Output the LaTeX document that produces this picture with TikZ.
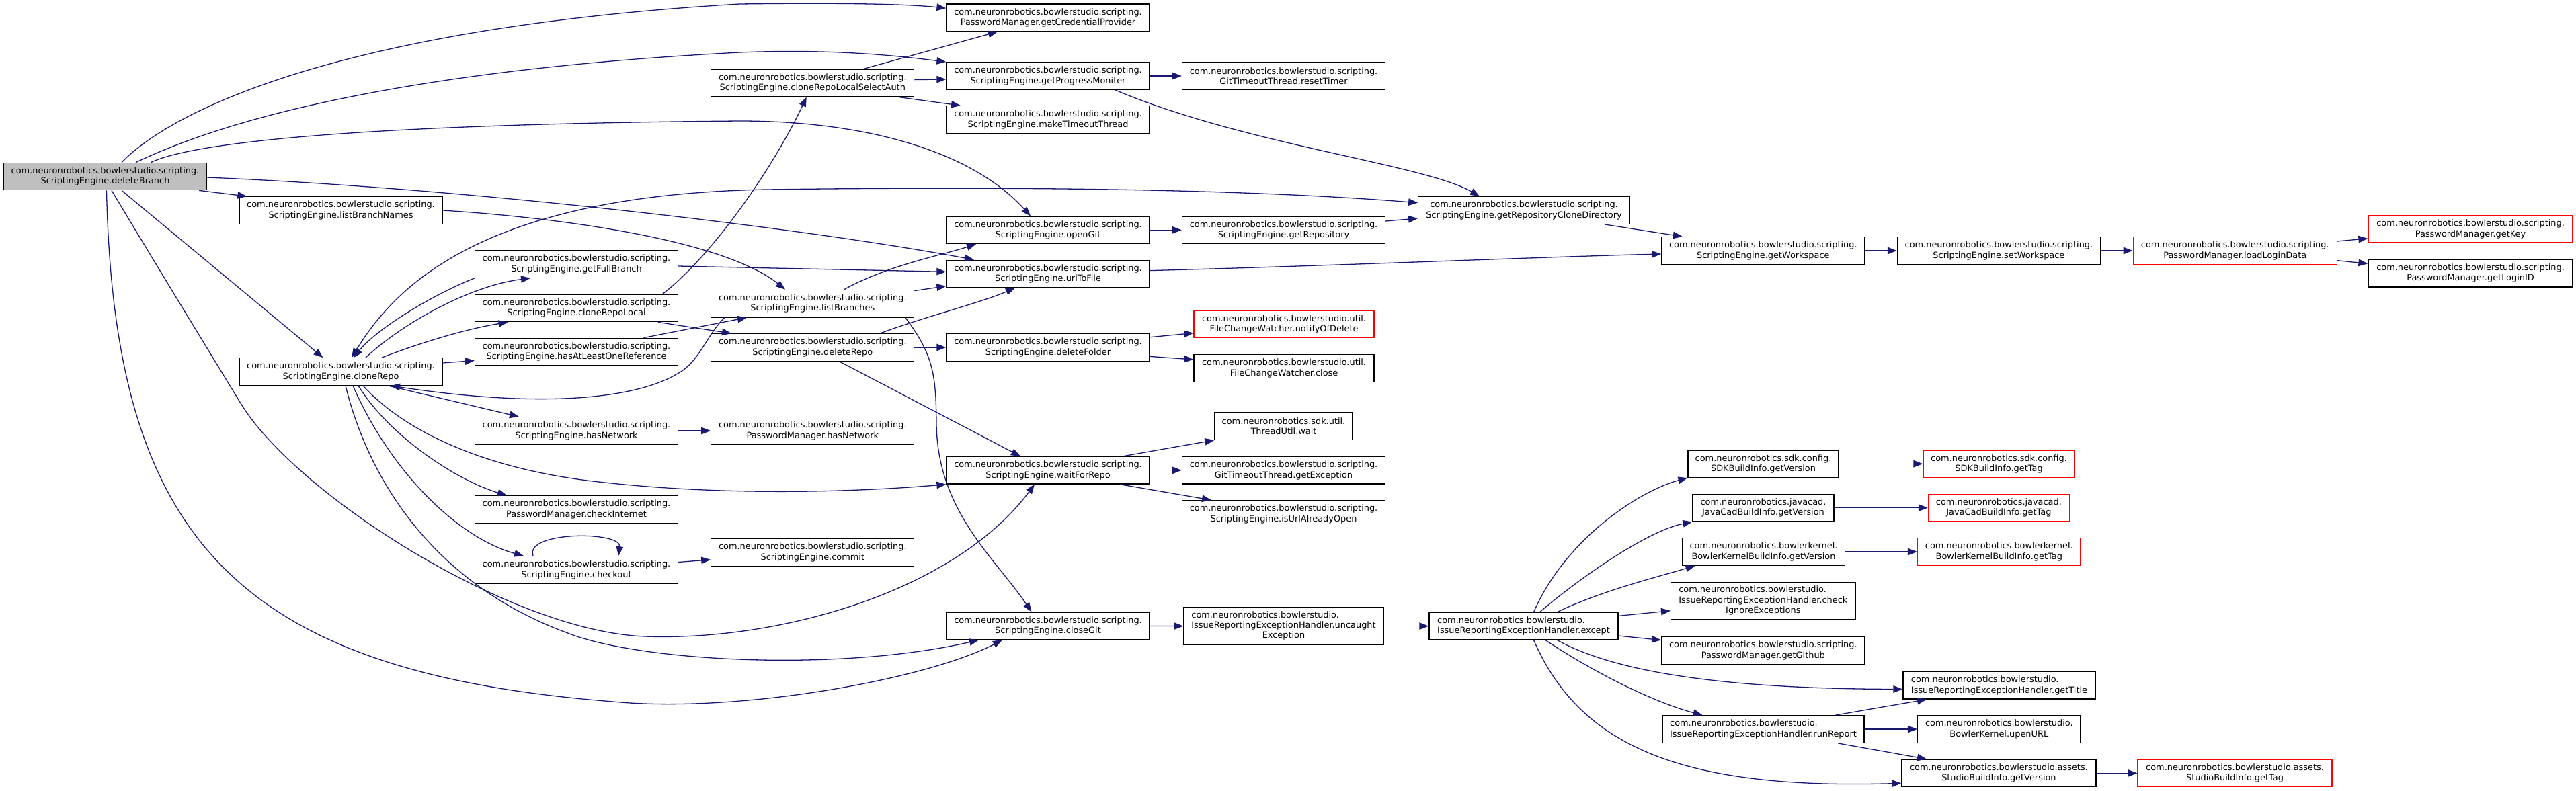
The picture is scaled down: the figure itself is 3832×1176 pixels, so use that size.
\documentclass[tikz,border=0pt]{standalone}
\usepackage{fontspec}
\setmainfont{DejaVu Sans}
\usetikzlibrary{arrows.meta}
\definecolor{edgec}{HTML}{191970}
\definecolor{rootfill}{HTML}{BFBFBF}
\newcommand{\nodefnt}{\fontsize{12.9}{15.3}\selectfont}
\tikzset{
  bx/.style={draw=black, line width=1.3pt, fill=white, inner sep=0pt, minimum height=40.5pt, font=\nodefnt},
  nb/.style={bx, align=center},
  nl/.style={bx, align=left},
  rb/.style={nb, draw=red},
  e/.style={draw=edgec, line width=1.3pt, -{Triangle[length=14pt,width=10.5pt]}},
  ee/.style={draw=edgec, line width=1.3pt, {Triangle[length=14pt,width=10.5pt]}-{Triangle[length=14pt,width=10.5pt]}},
}
\begin{document}
\begin{tikzpicture}[x=1pt, y=-1pt]
\useasboundingbox (0,0) rectangle (3832,1176);
% column 1-2
\node[nb, fill=rootfill, minimum width=302pt] (DB) at (156.5,262.5) {com.neuronrobotics.bowlerstudio.scripting.\\ScriptingEngine.deleteBranch};
\node[nb, minimum width=302pt] (LBN) at (507,313) {com.neuronrobotics.bowlerstudio.scripting.\\ScriptingEngine.listBranchNames};
\node[nb, minimum width=302pt] (CR) at (507,553) {com.neuronrobotics.bowlerstudio.scripting.\\ScriptingEngine.cloneRepo};
% column 3
\node[nb, minimum width=302pt] (GFB) at (857.5,393) {com.neuronrobotics.bowlerstudio.scripting.\\ScriptingEngine.getFullBranch};
\node[nb, minimum width=302pt] (CRL) at (857.5,458.5) {com.neuronrobotics.bowlerstudio.scripting.\\ScriptingEngine.cloneRepoLocal};
\node[nb, minimum width=302pt] (HALOR) at (857.5,523.5) {com.neuronrobotics.bowlerstudio.scripting.\\ScriptingEngine.hasAtLeastOneReference};
\node[nb, minimum width=302pt] (HN) at (857.5,641) {com.neuronrobotics.bowlerstudio.scripting.\\ScriptingEngine.hasNetwork};
\node[nb, minimum width=302pt] (CI) at (857.5,758) {com.neuronrobotics.bowlerstudio.scripting.\\PasswordManager.checkInternet};
\node[nb, minimum width=302pt] (CO) at (857.5,848) {com.neuronrobotics.bowlerstudio.scripting.\\ScriptingEngine.checkout};
% column 4
\node[nb, minimum width=302pt] (CRLSA) at (1208.8,123.6) {com.neuronrobotics.bowlerstudio.scripting.\\ScriptingEngine.cloneRepoLocalSelectAuth};
\node[nb, minimum width=302pt] (LB) at (1208.8,451.6) {com.neuronrobotics.bowlerstudio.scripting.\\ScriptingEngine.listBranches};
\node[nb, minimum width=302pt] (DR) at (1208.8,517) {com.neuronrobotics.bowlerstudio.scripting.\\ScriptingEngine.deleteRepo};
\node[nb, minimum width=302pt] (PMHN) at (1208.8,641) {com.neuronrobotics.bowlerstudio.scripting.\\PasswordManager.hasNetwork};
\node[nb, minimum width=302pt] (COM) at (1208.8,822) {com.neuronrobotics.bowlerstudio.scripting.\\ScriptingEngine.commit};
% column 5
\node[nb, minimum width=302pt] (GCP) at (1559,26.2) {com.neuronrobotics.bowlerstudio.scripting.\\PasswordManager.getCredentialProvider};
\node[nb, minimum width=302pt] (GPM) at (1559,113) {com.neuronrobotics.bowlerstudio.scripting.\\ScriptingEngine.getProgressMoniter};
\node[nb, minimum width=302pt] (MTT) at (1559,178) {com.neuronrobotics.bowlerstudio.scripting.\\ScriptingEngine.makeTimeoutThread};
\node[nb, minimum width=302pt] (OG) at (1559,342.3) {com.neuronrobotics.bowlerstudio.scripting.\\ScriptingEngine.openGit};
\node[nb, minimum width=302pt] (UTF) at (1559,407.4) {com.neuronrobotics.bowlerstudio.scripting.\\ScriptingEngine.uriToFile};
\node[nb, minimum width=302pt] (DF) at (1559,517) {com.neuronrobotics.bowlerstudio.scripting.\\ScriptingEngine.deleteFolder};
\node[nb, minimum width=302pt] (WFR) at (1559,699.8) {com.neuronrobotics.bowlerstudio.scripting.\\ScriptingEngine.waitForRepo};
\node[nb, minimum width=302pt] (CG) at (1559,931.4) {com.neuronrobotics.bowlerstudio.scripting.\\ScriptingEngine.closeGit};
% column 6
\node[nb, minimum width=302pt] (RT) at (1909.5,113) {com.neuronrobotics.bowlerstudio.scripting.\\GitTimeoutThread.resetTimer};
\node[nb, minimum width=302pt] (GR) at (1909.5,342.3) {com.neuronrobotics.bowlerstudio.scripting.\\ScriptingEngine.getRepository};
\node[rb, minimum width=268pt] (NOD) at (1910,482.4) {com.neuronrobotics.bowlerstudio.util.\\FileChangeWatcher.notifyOfDelete};
\node[nb, minimum width=268pt] (FCWC) at (1910,548) {com.neuronrobotics.bowlerstudio.util.\\FileChangeWatcher.close};
\node[nb, minimum width=205pt] (TUW) at (1909.5,634) {com.neuronrobotics.sdk.util.\\ThreadUtil.wait};
\node[nb, minimum width=302pt] (GE) at (1909.5,699.8) {com.neuronrobotics.bowlerstudio.scripting.\\GitTimeoutThread.getException};
\node[nb, minimum width=302pt] (IUAO) at (1909.5,765) {com.neuronrobotics.bowlerstudio.scripting.\\ScriptingEngine.isUrlAlreadyOpen};
\node[bx, minimum width=297pt, minimum height=55pt] (UE) at (1909.5,931.6) {\begin{tabular}{@{}l@{}}com.neuronrobotics.bowlerstudio.\\IssueReportingExceptionHandler.uncaught\\\multicolumn{1}{@{}c@{}}{Exception}\end{tabular}};
% column 7
\node[nb, minimum width=314.5pt] (GRCD) at (2267,313) {com.neuronrobotics.bowlerstudio.scripting.\\ScriptingEngine.getRepositoryCloneDirectory};
\node[nl, minimum width=281pt] (EXC) at (2266.5,931.6) {com.neuronrobotics.bowlerstudio.\\IssueReportingExceptionHandler.except};
% column 8
\node[nb, minimum width=302pt] (GW) at (2622.8,373) {com.neuronrobotics.bowlerstudio.scripting.\\ScriptingEngine.getWorkspace};
\node[nb, minimum width=224pt] (SDKV) at (2623,690.2) {com.neuronrobotics.sdk.config.\\SDKBuildInfo.getVersion};
\node[nb, minimum width=210pt] (JCV) at (2623,755.6) {com.neuronrobotics.javacad.\\JavaCadBuildInfo.getVersion};
\node[nb, minimum width=242pt] (BKV) at (2623.5,821) {com.neuronrobotics.bowlerkernel.\\BowlerKernelBuildInfo.getVersion};
\node[bx, minimum width=274.4pt, minimum height=55pt] (CIE) at (2622.8,894) {\begin{tabular}{@{}l@{}}com.neuronrobotics.bowlerstudio.\\IssueReportingExceptionHandler.check\\\multicolumn{1}{@{}c@{}}{IgnoreExceptions}\end{tabular}};
\node[nb, minimum width=302pt] (GG) at (2622.8,968) {com.neuronrobotics.bowlerstudio.scripting.\\PasswordManager.getGithub};
\node[nl, minimum width=300pt] (RR) at (2623,1085) {com.neuronrobotics.bowlerstudio.\\IssueReportingExceptionHandler.runReport};
% column 9
\node[nb, minimum width=302pt] (SW) at (2973.4,373) {com.neuronrobotics.bowlerstudio.scripting.\\ScriptingEngine.setWorkspace};
\node[rb, minimum width=225pt] (SDKT) at (2973.5,690.2) {com.neuronrobotics.sdk.config.\\SDKBuildInfo.getTag};
\node[rb, minimum width=210pt] (JCT) at (2973.4,755.6) {com.neuronrobotics.javacad.\\JavaCadBuildInfo.getTag};
\node[rb, minimum width=242.5pt] (BKT) at (2973.8,821) {com.neuronrobotics.bowlerkernel.\\BowlerKernelBuildInfo.getTag};
\node[nl, minimum width=286pt] (GT) at (2974,1019.8) {com.neuronrobotics.bowlerstudio.\\IssueReportingExceptionHandler.getTitle};
\node[nb, minimum width=242.5pt] (UPEN) at (2973.8,1085) {com.neuronrobotics.bowlerstudio.\\BowlerKernel.upenURL};
\node[nb, minimum width=289pt] (SBV) at (2973.4,1150.4) {com.neuronrobotics.bowlerstudio.assets.\\StudioBuildInfo.getVersion};
% column 10-11
\node[rb, minimum width=303pt] (LLD) at (3324.7,373) {com.neuronrobotics.bowlerstudio.scripting.\\PasswordManager.loadLoginData};
\node[rb, minimum width=289pt] (SBT) at (3324.5,1150.4) {com.neuronrobotics.bowlerstudio.assets.\\StudioBuildInfo.getTag};
\node[rb, minimum width=304pt] (GK) at (3675,340.8) {com.neuronrobotics.bowlerstudio.scripting.\\PasswordManager.getKey};
\node[nb, minimum width=304pt] (GLID) at (3675,406.6) {com.neuronrobotics.bowlerstudio.scripting.\\PasswordManager.getLoginID};

% edges from deleteBranch
\draw[e] ([xshift=24.5pt]DB.north) .. controls (260,160) and (520,40) .. (1100,6) .. controls (1250,4) and (1350,6) .. ([yshift=14pt]GCP.west);
\draw[e] ([xshift=45.5pt]DB.north) .. controls (260,215) and (480,110) .. (1100,78) .. controls (1250,72) and (1350,85) .. (GPM.north west);
\draw[e] ([xshift=68pt]DB.north) .. controls (280,215) and (500,185) .. (1100,180) .. controls (1300,180) and (1450,230) .. ([xshift=-26pt]OG.north);
\draw[e] ([yshift=-1.5pt]DB.east) .. controls (700,280) and (1200,340) .. ([xshift=-110pt]UTF.north);
\draw[e] ([xshift=-12pt]DB.south east) -- ([xshift=12pt]LBN.north west);
\draw[e] ([xshift=24.5pt]DB.south) -- ([xshift=-26.5pt]CR.north);
\draw[e] ([xshift=2pt]DB.south) .. controls (170,800) and (350,1000) .. (912,1044) .. controls (1100,1062) and (1380,1010) .. ([xshift=-68pt]CG.south);
\draw[e] ([xshift=9.5pt]DB.south) .. controls (230,390) and (300,505) .. (358,600) .. controls (440,735) and (760,940) .. (960,947) .. controls (1160,954) and (1420,880) .. ([xshift=-20pt]WFR.south);
% edges from cloneRepo
\draw[e] ([xshift=37pt]CR.north) .. controls (600,480) and (700,425) .. ([xshift=-68.5pt]GFB.south);
\draw[e] (GFB.south west) .. controls (640,440) and (560,490) .. ([xshift=19pt]CR.north);
\draw[e] ([xshift=61pt]CR.north) .. controls (620,512) and (690,490) .. ([xshift=-102pt]CRL.south);
\draw[e] ([yshift=13pt]CR.east) -- ([yshift=-13pt]HALOR.west);
\draw[e] ([xshift=70pt]CR.south) -- ([xshift=-85.5pt]HN.north);
\draw[e] ([xshift=26pt]CR.south) .. controls (580,650) and (680,715) .. ([xshift=-103.5pt]CI.north);
\draw[e] ([xshift=18pt]CR.south) .. controls (580,700) and (680,800) .. ([xshift=-78.5pt]CO.north);
\draw[e] ([xshift=33pt]CR.south) .. controls (600,640) and (720,700) .. (900,718) .. controls (1100,740) and (1300,730) .. (WFR.south west);
\draw[e] ([xshift=7pt]CR.south) .. controls (550,720) and (650,870) .. (842,941) .. controls (950,985) and (1250,1000) .. ([xshift=-103pt]CG.south);
\draw[ee] ([xshift=16pt]CR.north) .. controls (580,440) and (700,290) .. (1140,282) .. controls (1600,276) and (1900,285) .. ([yshift=11.3pt]GRCD.west);
\draw[e] ([xshift=-131pt]LB.south) .. controls (1050,500) and (1040,540) .. (1006,557) .. controls (950,590) and (820,610) .. ([xshift=74pt]CR.south);
\draw[e] (HN.east) -- (PMHN.west);
\draw[e] ([xshift=-64.5pt]CO.north) .. controls (780,790) and (925,790) .. ([xshift=62.5pt]CO.north);
\draw[e] ([yshift=11.5pt]CO.east) -- ([yshift=-10.8pt]COM.west);
% column 2-3 edges
\draw[e] (LBN.east) .. controls (850,325) and (1080,360) .. ([xshift=-40.8pt]LB.north);
\draw[e] ([yshift=-3pt]GFB.east) -- ([yshift=3pt]UTF.west);
\draw[e] ([xshift=128pt]CRL.north) .. controls (1060,380) and (1150,250) .. ([xshift=-9pt]CRLSA.south);
\draw[e] ([xshift=100pt]HALOR.north) -- ([xshift=-97.8pt]LB.south);
\draw[e] ([xshift=121.5pt]CRL.south) -- ([xshift=-120.8pt]DR.north);
% column 4 edges
\draw[e] ([xshift=75pt]CRLSA.north) -- ([xshift=-75pt]GCP.south);
\draw[e] ([yshift=5pt]CRLSA.east) -- ([yshift=-5pt]GPM.west);
\draw[e] ([xshift=128pt]CRLSA.south) -- ([xshift=-130pt]MTT.north);
\draw[e] ([xshift=47pt]LB.north) .. controls (1320,395) and (1400,380) .. ([xshift=-107pt]OG.south);
\draw[e] ([yshift=19pt]LB.east) -- ([yshift=-18.2pt]UTF.west);
\draw[e] ([xshift=138pt]LB.south) .. controls (1390,530) and (1392,560) .. (1393,630) .. controls (1394,760) and (1480,830) .. ([xshift=-24.5pt]CG.north);
\draw[e] ([xshift=100pt]DR.north) .. controls (1380,470) and (1460,450) .. ([xshift=-49pt]UTF.south);
\draw[e] (DR.east) -- (DF.west);
\draw[e] ([xshift=40pt]DR.south) -- ([xshift=-41pt]WFR.north);
% column 5 edges
\draw[e] (GPM.east) -- (RT.west);
\draw[e] ([xshift=100pt]GPM.south) .. controls (1850,215) and (2120,245) .. ([xshift=-66pt]GRCD.north);
\draw[e] (OG.east) -- (GR.west);
\draw[e] ([yshift=4.8pt]UTF.east) .. controls (2000,395) and (2300,382) .. ([yshift=-5pt]GW.west);
\draw[e] ([yshift=15.3pt]DF.east) -- ([yshift=-13.2pt]NOD.west);
\draw[e] ([yshift=-13.4pt]DF.east) -- ([yshift=13pt]FCWC.west);
\draw[e] ([xshift=111pt]WFR.north) -- (TUW.south west);
\draw[e] (WFR.east) -- (GE.west);
\draw[e] ([xshift=107pt]WFR.south) -- ([xshift=-107.5pt]IUAO.north);
\draw[e] (CG.east) -- (UE.west);
\draw[e] ([yshift=13.3pt]GR.east) -- ([yshift=-12pt]GRCD.west);
\draw[e] (UE.east) -- (EXC.west);
% right part
\draw[e] ([xshift=120pt]GRCD.south) -- ([xshift=-120pt]GW.north);
\draw[e] (GW.east) -- (SW.west);
\draw[e] (SW.east) -- (LLD.west);
\draw[e] ([yshift=14pt]LLD.east) -- ([yshift=-14pt]GK.west);
\draw[e] ([yshift=-14.7pt]LLD.east) -- ([yshift=14.3pt]GLID.west);
\draw[e] ([xshift=15pt]EXC.north) .. controls (2330,800) and (2440,730) .. (SDKV.south west);
\draw[e] ([xshift=24pt]EXC.north) .. controls (2350,860) and (2450,790) .. (JCV.south west);
\draw[e] ([xshift=50pt]EXC.north) .. controls (2380,880) and (2460,860) .. ([xshift=-102pt]BKV.south);
\draw[e] ([yshift=15.2pt]EXC.east) -- ([yshift=-14.8pt]CIE.west);
\draw[e] ([yshift=-14.4pt]EXC.east) -- ([yshift=15.5pt]GG.west);
\draw[e] ([xshift=50pt]EXC.south) .. controls (2420,1010) and (2620,1025) .. ([yshift=-5.7pt]GT.west);
\draw[e] ([xshift=32.5pt]EXC.south) .. controls (2370,1000) and (2460,1045) .. ([xshift=-90.4pt]RR.north);
\draw[e] ([xshift=15pt]EXC.south) .. controls (2350,1110) and (2500,1175) .. ([yshift=-14.9pt]SBV.west);
\draw[e] ([xshift=107.5pt]RR.north) -- ([xshift=-108pt]GT.south);
\draw[e] (RR.east) -- (UPEN.west);
\draw[e] ([xshift=111pt]RR.south) -- ([xshift=-107.4pt]SBV.north);
\draw[e] (SDKV.east) -- (SDKT.west);
\draw[e] (JCV.east) -- (JCT.west);
\draw[e] (BKV.east) -- (BKT.west);
\draw[e] (SBV.east) -- (SBT.west);
\end{tikzpicture}
\end{document}
